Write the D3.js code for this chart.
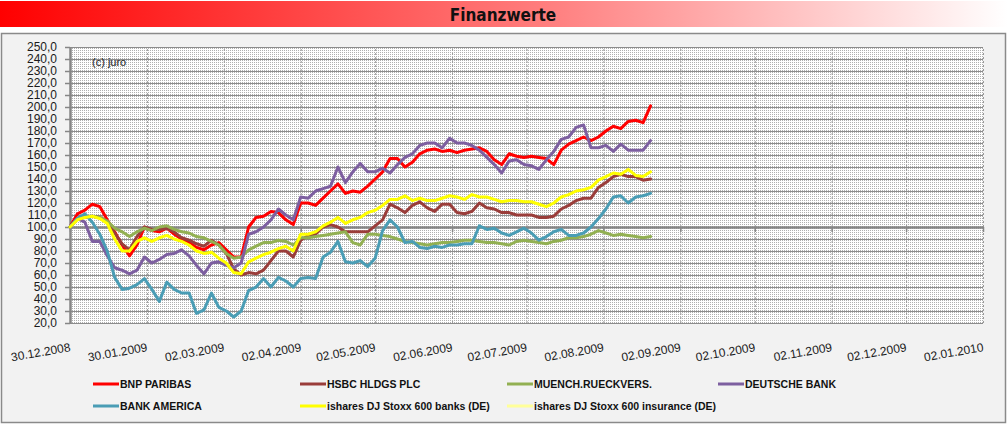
<!DOCTYPE html>
<html><head><meta charset="utf-8">
<script src="https://cdn.jsdelivr.net/npm/d3@7"></script>
<style>body{margin:0;background:#fff} svg{display:block}</style>
</head><body>
<svg id="c" width="1008" height="425"></svg>
<script>
// ---- data ----
const dates = ["2008-12-30","2009-01-02","2009-01-05","2009-01-08","2009-01-11","2009-01-14","2009-01-17","2009-01-20","2009-01-23","2009-01-26","2009-01-29",
"2009-02-01","2009-02-04","2009-02-07","2009-02-10","2009-02-13","2009-02-16","2009-02-19","2009-02-22","2009-02-25","2009-02-28",
"2009-03-03","2009-03-06","2009-03-09","2009-03-12","2009-03-15","2009-03-18","2009-03-21","2009-03-24","2009-03-27","2009-03-30",
"2009-04-02","2009-04-05","2009-04-08","2009-04-11","2009-04-14","2009-04-17","2009-04-20","2009-04-23","2009-04-26","2009-04-29",
"2009-05-02","2009-05-05","2009-05-08","2009-05-11","2009-05-14","2009-05-17","2009-05-20","2009-05-23","2009-05-26","2009-05-29",
"2009-06-01","2009-06-04","2009-06-07","2009-06-10","2009-06-13","2009-06-16","2009-06-19","2009-06-22","2009-06-25","2009-06-28",
"2009-07-01","2009-07-04","2009-07-07","2009-07-10","2009-07-13","2009-07-16","2009-07-19","2009-07-22","2009-07-25","2009-07-28","2009-07-31",
"2009-08-03","2009-08-06","2009-08-09","2009-08-12","2009-08-15","2009-08-18","2009-08-21"];

const bnpParibas = [100,111,114,119,117,106,96,85,76,85,100,97,96,99,94,90,87,83,81,85,87,81,75,75,100,108,109,113,112,106,102,
120,120,118,124,130,136,128,130,129,134,140,146,157,157,150,154,161,164,165,163,164,162,164,165,166,163,156,152,161,159,158,159,158,157,152,164,169,172,175,172,175,180,184,182,188,189,187,201];
const hsbc = [100,107,108,109,108,105,95,86,81,92,100,98,98,99,96,91,89,86,84,89,85,78,65,60,62,61,64,72,80,80,75,
89,93,94,100,102,100,96,96,96,96,101,106,119,116,112,118,121,116,113,119,119,112,111,113,120,116,115,112,112,110,110,110,108,108,109,115,118,122,124,124,133,137,142,144,142,142,139,140];
const muenchRe = [100,107,109,109,108,105,99,96,92,96,99,97,100,101,98,96,95,92,91,88,85,78,74,75,81,84,87,87,89,88,85,
91,91,92,93,94,95,96,87,85,94,94,93,92,90,88,87,86,85,86,87,87,88,89,89,88,87,87,86,85,88,89,88,87,86,88,89,91,91,92,94,97,95,93,94,93,92,91,92];
const deutscheBank = [100,107,104,88,88,76,66,64,61,64,75,70,73,77,78,81,76,68,61,70,71,68,66,70,94,96,100,106,115,110,106,
125,124,130,132,134,150,137,146,153,146,146,149,145,152,158,161,168,170,170,166,174,170,170,168,164,158,152,145,155,156,152,151,148,156,163,173,175,183,185,166,166,168,163,169,164,164,164,172];
const bankAmerica = [100,107,111,104,94,80,58,48,49,52,57,48,38,54,48,45,45,28,31,45,33,30,25,30,47,50,57,50,58,55,50,
57,58,57,75,79,88,71,70,72,67,74,97,106,100,87,88,83,82,84,83,85,85,86,86,101,98,99,95,93,96,99,95,89,92,96,98,93,93,95,100,107,115,125,126,120,125,126,128];
const isharesBanks = [100,106,108,109,107,103,90,80,80,88,91,88,91,93,90,88,85,80,78,79,74,70,62,61,71,74,77,79,82,84,80,
94,94,96,101,104,108,103,106,108,112,114,118,123,123,126,122,124,122,122,124,126,125,123,127,125,125,123,121,122,122,121,121,119,117,120,125,127,130,131,133,139,142,145,144,148,143,142,146];
const isharesInsurance = [];

const seriesNames = ["BNP PARIBAS","HSBC HLDGS PLC","MUENCH.RUECKVERS.","DEUTSCHE BANK","BANK AMERICA","ishares DJ Stoxx 600 banks (DE)","ishares DJ Stoxx 600 insurance (DE)"];
const seriesValues = [bnpParibas, hsbc, muenchRe, deutscheBank, bankAmerica, isharesBanks, isharesInsurance];
const seriesColors = ["#ff0000","#9a3d3a","#92b052","#7d5fa0","#4a9db5","#ffff00","#ffff99"];

const xTickLabels = ["30.12.2008","30.01.2009","02.03.2009","02.04.2009","02.05.2009","02.06.2009","02.07.2009","02.08.2009","02.09.2009","02.10.2009","02.11.2009","02.12.2009","02.01.2010"];
const yMin = 20, yMax = 250, yStep = 10;

// ---- drawing ----
const svg = d3.select("#c");
const W = 1008, H = 425;
const parseISO = d3.timeParse("%Y-%m-%d");
const parseDE = d3.timeParse("%d.%m.%Y");
const tickDates = xTickLabels.map(parseDE);

const plot = {left:70, right:983, top:47, bottom:323};
const x = d3.scaleTime().domain([tickDates[0], tickDates[tickDates.length-1]]).range([plot.left, plot.right]);
const y = d3.scaleLinear().domain([yMin, yMax]).range([plot.bottom, plot.top]);
const yTicks = d3.range(yMin, yMax + 1, yStep);

const defs = svg.append("defs");
const grad = defs.append("linearGradient").attr("id","tg").attr("x1","0").attr("x2","1").attr("y1","0").attr("y2","0");
grad.append("stop").attr("offset","0%").attr("stop-color","#ff0000");
grad.append("stop").attr("offset","55%").attr("stop-color","#ff8080");
grad.append("stop").attr("offset","100%").attr("stop-color","#ffffff");
const pat = defs.append("pattern").attr("id","dots").attr("width",2).attr("height",2).attr("patternUnits","userSpaceOnUse");
pat.append("rect").attr("width",2).attr("height",2).attr("fill","#ffffff");
pat.append("rect").attr("width",1).attr("height",1).attr("fill","#b0b0b0");

svg.append("rect").attr("width",W).attr("height",H).attr("fill","#ffffff");
// title bar
svg.append("rect").attr("x",0).attr("y",1).attr("width",W).attr("height",26).attr("fill","url(#tg)");
svg.append("text").attr("x",503).attr("y",21).attr("text-anchor","middle")
  .attr("font-family","'DejaVu Sans Condensed','DejaVu Sans',sans-serif").attr("font-weight","bold")
  .attr("font-size",17).attr("fill","#111").text("Finanzwerte");

// chart area
svg.append("rect").attr("x",1.5).attr("y",33.5).attr("width",1004).attr("height",389)
  .attr("fill","#f2f2f2").attr("stroke","#8a8a8a").attr("stroke-width",1.5);

// plot background
svg.append("rect").attr("x",plot.left).attr("y",plot.top).attr("width",plot.right-plot.left).attr("height",plot.bottom-plot.top)
  .attr("fill","url(#dots)");

// horizontal grid
const hg = svg.append("g").attr("transform",`translate(${plot.left},0)`)
  .call(d3.axisLeft(y).tickValues(yTicks).tickSize(-(plot.right-plot.left)).tickFormat(""));
hg.select(".domain").remove();
hg.selectAll("line").attr("stroke","#8c8c8c").attr("stroke-width",1);

// vertical grid
const vg = svg.append("g").attr("transform",`translate(0,${plot.bottom})`)
  .call(d3.axisBottom(x).tickValues(tickDates).tickSize(-(plot.bottom-plot.top)).tickFormat(""));
vg.select(".domain").remove();
vg.selectAll("line").attr("stroke","#9a9a9a").attr("stroke-width",1).attr("stroke-dasharray","2,2");

// y axis
const ya = svg.append("g").attr("transform",`translate(${plot.left},0)`)
  .call(d3.axisLeft(y).tickValues(yTicks).tickSizeInner(5).tickSizeOuter(0).tickPadding(8)
    .tickFormat(d => d3.format(".1f")(d).replace(".", ",")));
ya.select(".domain").attr("stroke","#868686").attr("stroke-width",2.5);
ya.selectAll("line").attr("stroke","#868686").attr("stroke-width",1.5);
ya.selectAll("text").attr("font-family","'Liberation Sans',Arial,sans-serif").attr("font-size",12).attr("fill","#1a1a1a");

// x axis at 100
const xa = svg.append("g").attr("transform",`translate(0,${y(100)})`)
  .call(d3.axisBottom(x).tickValues(tickDates).tickSizeInner(5).tickSizeOuter(0).tickFormat(""));
xa.select(".domain").attr("stroke","#868686").attr("stroke-width",2.5);
xa.selectAll("line").attr("stroke","#868686").attr("stroke-width",1.5);

// x labels
svg.append("g").selectAll("text").data(tickDates).join("text")
  .attr("transform", (d) => `translate(${x(d)+1},${351}) rotate(-10)`)
  .attr("text-anchor","end")
  .attr("font-family","'Liberation Sans',Arial,sans-serif").attr("font-size",12).attr("fill","#1a1a1a")
  .text((d,i) => xTickLabels[i]);

// (c) juro
svg.append("text").attr("x",92).attr("y",66).attr("font-family","'Liberation Sans',Arial,sans-serif")
  .attr("font-size",11).attr("fill","#222").text("(c) juro");

// lines
const line = d3.line().x(d => x(d.date)).y(d => y(d.v));
const parsedDates = dates.map(parseISO);
seriesValues.forEach((vals, k) => {
  if (!vals.length) return;
  const pts = vals.map((v,i) => ({date: parsedDates[i], v}));
  svg.append("path").datum(pts).attr("d", line).attr("fill","none")
    .attr("stroke", seriesColors[k]).attr("stroke-width",3).attr("stroke-linejoin","round").attr("stroke-linecap","round");
});

// legend
const legCols = [93, 300, 507, 718];
const legRows = [384, 406];
seriesNames.forEach((name, k) => {
  const col = k < 4 ? k : k - 4;
  const row = k < 4 ? 0 : 1;
  const lx = legCols[col], ly = legRows[row];
  svg.append("line").attr("x1",lx).attr("x2",lx+26).attr("y1",ly).attr("y2",ly)
    .attr("stroke",seriesColors[k]).attr("stroke-width",3);
  svg.append("text").attr("x",lx+27).attr("y",ly+4)
    .attr("font-family","'Liberation Sans',Arial,sans-serif").attr("font-weight","bold")
    .attr("font-size",10.5).attr("fill","#111").text(name);
});
</script>
</body></html>
